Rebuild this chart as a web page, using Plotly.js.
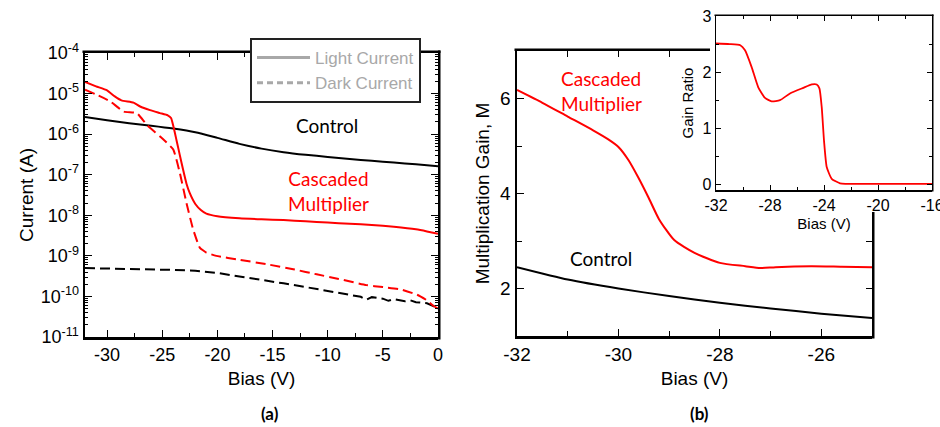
<!DOCTYPE html>
<html><head><meta charset="utf-8">
<script src="https://cdn.plot.ly/plotly-3.0.1.min.js"></script>
<style>html,body{margin:0;padding:0;background:#fff}</style>
</head><body><div id="chart" style="width:940px;height:427px"></div>
<script>
// ---- Panel (a): current vs bias ----
const ctrlLightX = [-32,-30,-28,-26,-24,-22,-20,-18,-16,-14,-12,-10,-8,-6,-4,-2,0];
const ctrlLightY = [2.63e-6,2.19e-6,1.86e-6,1.62e-6,1.38e-6,1.12e-6,8.1e-7,5.75e-7,4.4e-7,3.6e-7,3.1e-7,2.75e-7,2.45e-7,2.2e-7,2.0e-7,1.8e-7,1.62e-7];
const ctrlDarkX = [-32,-30,-28,-26,-24,-22,-20,-18,-16,-14,-12,-10,-8,-7,-6.5,-6,-5,-4.5,-4,-3,-2.5,-2,-1,-0.5,0];
const ctrlDarkY = [5.0e-10,4.9e-10,4.8e-10,4.6e-10,4.5e-10,4.3e-10,3.8e-10,3.1e-10,2.6e-10,2.1e-10,1.7e-10,1.35e-10,1.1e-10,9.8e-11,8.3e-11,9.6e-11,8.8e-11,7.8e-11,8.6e-11,7.6e-11,8.0e-11,7.2e-11,6.8e-11,6.0e-11,5.2e-11];
const cascLightX = [-32,-31,-30,-29.3,-28.7,-27.6,-27,-26.1,-25.2,-24.5,-24.2,-24,-23.7,-23.4,-23.1,-22.8,-22.5,-22,-21.5,-21,-20,-18,-16,-14,-12,-10,-8,-6,-4,-2,-1,0];
const cascLightY = [1.93e-5,1.51e-5,1.2e-5,8.5e-6,6.8e-6,6.0e-6,4.8e-6,3.9e-6,3.3e-6,2.9e-6,2.5e-6,1.6e-6,7e-7,3e-7,1.3e-7,6e-8,3.5e-8,1.9e-8,1.35e-8,1.1e-8,9.5e-9,8.5e-9,8.0e-9,7.6e-9,7.1e-9,6.6e-9,6.2e-9,5.8e-9,5.2e-9,4.5e-9,4.0e-9,3.5e-9];
const cascDarkX = [-32,-31,-29.7,-28.5,-27.3,-26.4,-25.2,-24.0,-23.4,-22.8,-22.2,-21.6,-21,-20.1,-18,-15.5,-13,-11,-9,-6.5,-5,-3.4,-1.9,-1,-0.4,0];
const cascDarkY = [1.25e-5,9.5e-6,6.4e-6,3.6e-6,3.3e-6,1.7e-6,8.8e-7,4.2e-7,1.1e-7,2e-8,4.5e-9,1.6e-9,1.2e-9,1.0e-9,8.0e-10,6.2e-10,4.6e-10,3.5e-10,2.7e-10,1.9e-10,1.7e-10,1.5e-10,1.1e-10,8e-11,5.8e-11,5e-11];
const aXTicks = [-30,-25,-20,-15,-10,-5,0];
const aYExp = [-11,-10,-9,-8,-7,-6,-5,-4];

// ---- Panel (b): multiplication gain ----
const gainCascX = [-32,-31.5,-31,-30.5,-30.2,-30,-29.8,-29.6,-29.4,-29.2,-28.9,-28.5,-28,-27.5,-27.2,-26.9,-26.2,-25.6,-25];
const gainCascY = [6.18,5.91,5.62,5.33,5.14,4.98,4.70,4.32,3.90,3.46,3.02,2.75,2.54,2.47,2.43,2.45,2.47,2.46,2.45];
const gainCtrlX = [-32,-31,-30,-29,-28,-27,-26,-25];
const gainCtrlY = [2.45,2.19,2.00,1.84,1.70,1.58,1.47,1.38];
const bXTicks = [-32,-30,-28,-26];
const bYTicks = [2,4,6];

// ---- Inset: gain ratio ----
const ratioX = [-32,-31,-30.2,-29.85,-29.36,-28.87,-28.37,-27.88,-27.26,-26.52,-25.53,-24.9,-24.54,-24.34,-24.17,-24.0,-23.8,-23.43,-22.81,-21.3,-20,-18,-16];
const ratioY = [2.51,2.50,2.48,2.39,2.09,1.73,1.54,1.48,1.50,1.62,1.72,1.78,1.78,1.71,1.38,0.78,0.31,0.10,0.02,0.01,0.01,0.01,0.01];
const iXTicks = [-32,-28,-24,-20,-16];
const iYTicks = [0,1,2,3];

const legendNames = ['Light Current','Dark Current'];

const W = 940, H = 427;
const fx = v => v / W, fy = v => 1 - v / H;
const RED = '#ff0000', BLK = '#000000', GREY = '#a8a8a8';
const TF = '"Liberation Sans", Arial, sans-serif';
const AF = 'Lato, "Open Sans", sans-serif';
const lbl = arr => arr.map(v => String(v));

const nul = (xa, ya) => ({x:[null], y:[null], xaxis:xa, yaxis:ya, mode:'lines', showlegend:false, hoverinfo:'skip'});

const traces = [
  {x: ctrlLightX, y: ctrlLightY, xaxis:'x', yaxis:'y', mode:'lines', line:{color:BLK, width:2, shape:'spline', smoothing:0.6}, showlegend:false},
  {x: ctrlDarkX, y: ctrlDarkY, xaxis:'x', yaxis:'y', mode:'lines', line:{color:BLK, width:2, dash:'10px,5px'}, showlegend:false},
  {x: cascLightX, y: cascLightY, xaxis:'x', yaxis:'y', mode:'lines', line:{color:RED, width:2, shape:'spline', smoothing:0.5}, showlegend:false},
  {x: cascDarkX, y: cascDarkY, xaxis:'x', yaxis:'y', mode:'lines', line:{color:RED, width:2, dash:'10px,5px', shape:'spline', smoothing:0.4}, showlegend:false},
  {x:[null], y:[null], xaxis:'x', yaxis:'y', mode:'lines', name: legendNames[0], line:{color:GREY, width:3}},
  {x:[null], y:[null], xaxis:'x', yaxis:'y', mode:'lines', name: legendNames[1], line:{color:GREY, width:3, dash:'6px,4px'}},
  {x: gainCascX, y: gainCascY, xaxis:'x2', yaxis:'y2', mode:'lines', line:{color:RED, width:2, shape:'spline', smoothing:0.6}, showlegend:false},
  {x: gainCtrlX, y: gainCtrlY, xaxis:'x2', yaxis:'y2', mode:'lines', line:{color:BLK, width:2, shape:'spline', smoothing:0.6}, showlegend:false},
  {x: ratioX, y: ratioY, xaxis:'x3', yaxis:'y3', mode:'lines', line:{color:RED, width:1.8, shape:'spline', smoothing:0.5}, showlegend:false},
  // empty carriers so the mirrored tick axes get drawn
  nul('x4','y'), nul('x','y4'), nul('x5','y2'), nul('x2','y5'), nul('x6','y3'), nul('x3','y6')
];

const dAx = [fx(85), fx(438)], dAy = [fy(337), fy(53)];
const d2x = [fx(517), fx(872)], d2y = [fy(336), fy(51)];
const d3x = [fx(716), fx(932)], d3y = [fy(190), fy(16)];
const d5x = [fx(517), fx(710)], d5y = [fy(336), fy(212)];
const xArange = [-32, 0], yArange = [-11, -4];
const x2range = [-32, -25], y2range = [1, 7];
const x3range = [-32, -16], y3range = [-0.1, 3];
const x5range = [x2range[0], x2range[0] + (x2range[1]-x2range[0]) * (d5x[1]-d5x[0]) / (d2x[1]-d2x[0])];
const y5range = [y2range[0], y2range[0] + (y2range[1]-y2range[0]) * (d5y[1]-d5y[0]) / (d2y[1]-d2y[0])];

const base = {showgrid:false, zeroline:false, showline:true, linecolor:'#000', ticks:'inside', tickcolor:'#000', automargin:false};
const ghost = {showgrid:false, zeroline:false, showline:false, ticks:'inside', tickcolor:'#000', showticklabels:false, automargin:false, fixedrange:true};
const mn = (d, l) => ({dtick:d, tick0:0, ticks:'inside', ticklen:l, tickcolor:'#000'});
const arr = (vals) => ({tickmode:'array', tickvals:vals, ticktext:lbl(vals)});

// frame lines (top / right edges) in paper coordinates
const LW = 2.5, LWi = 1.5;
const seg = (x0, y0, x1, y1, w) => ({type:'line', xref:'paper', yref:'paper', x0:fx(x0), y0:fy(y0), x1:fx(x1), y1:fy(y1), line:{color:'#000', width:w}, layer:'above'});
const shapes = [
  seg(85 - LW, 53 - LW/2, 438 + LW, 53 - LW/2, LW),
  seg(438 + LW/2, 53 - LW, 438 + LW/2, 337 + LW, LW),
  seg(517 - LW, 51 - LW/2, 710, 51 - LW/2, LW),
  seg(872 + LW/2, 212, 872 + LW/2, 336 + LW, LW),
  seg(716 - LWi, 16 - LWi/2, 932 + LWi, 16 - LWi/2, LWi),
  seg(932 + LWi/2, 16 - LWi, 932 + LWi/2, 190 + LWi, LWi)
];

const layout = {
  width: W, height: H,
  margin: {l:0, r:0, t:0, b:0},
  paper_bgcolor: '#fff', plot_bgcolor: 'rgba(0,0,0,0)',
  font: {family: TF, color:'#000'},
  showlegend: true,
  legend: {x: fx(250), y: fy(38), xanchor:'left', yanchor:'top', bgcolor:'#fff', bordercolor:'#222', borderwidth:2,
           font:{family:TF, size:17, color:GREY}, itemwidth:53, tracegroupgap:0},
  xaxis: Object.assign({}, base, arr(aXTicks), {domain:dAx, anchor:'y', range:xArange, linewidth:LW, ticklen:7,
          minor:mn(2.5, 4), tickfont:{size:18}, title:{text:'Bias (V)', font:{size:19}, standoff:8}}),
  yaxis: Object.assign({}, base, {domain:dAy, anchor:'x', type:'log', range:yArange, linewidth:LW, ticklen:7,
          tickmode:'array', tickvals:aYExp.map(e => Math.pow(10, e)), ticktext:aYExp.map(e => '10<sup>' + e + '</sup>'),
          minor:{dtick:'D1', ticks:'inside', ticklen:3, tickcolor:'#000'}, tickfont:{size:18}, title:{text:'Current (A)', font:{size:19}, standoff:2}}),
  xaxis4: Object.assign({}, ghost, {overlaying:'x', anchor:'y', side:'top', range:xArange, dtick:5, tick0:0, ticklen:7, minor:mn(2.5, 4)}),
  yaxis4: Object.assign({}, ghost, {overlaying:'y', anchor:'x', side:'right', type:'log', range:yArange, dtick:1, ticklen:7, minor:{dtick:'D1', ticks:'inside', ticklen:3, tickcolor:'#000'}}),

  xaxis2: Object.assign({}, base, arr(bXTicks), {domain:d2x, anchor:'y2', range:x2range, linewidth:LW, ticklen:7,
          minor:mn(1, 5), tickfont:{size:19}, title:{text:'Bias (V)', font:{size:19}, standoff:8}}),
  yaxis2: Object.assign({}, base, arr(bYTicks), {domain:d2y, anchor:'x2', range:y2range, linewidth:LW, ticklen:7,
          minor:mn(1, 5), tickfont:{size:19}, title:{text:'Multiplication Gain, M', font:{size:19}, standoff:6}}),
  xaxis5: Object.assign({}, ghost, {domain:d5x, anchor:'y2', side:'top', range:x5range, dtick:1, tick0:0, ticklen:6}),
  yaxis5: Object.assign({}, ghost, {domain:d5y, anchor:'x2', side:'right', range:y5range, dtick:1, tick0:0, ticklen:6}),

  xaxis3: Object.assign({}, base, arr(iXTicks), {domain:d3x, anchor:'y3', range:x3range, linewidth:LWi, ticklen:5,
          ticklabeloverflow:'allow', minor:mn(2, 3), tickfont:{size:16}, title:{text:'Bias (V)', font:{size:15}, standoff:6}}),
  yaxis3: Object.assign({}, base, arr(iYTicks), {domain:d3y, anchor:'x3', range:y3range, linewidth:LWi, ticklen:5,
          ticklabeloverflow:'allow', minor:mn(0.5, 3), tickfont:{size:16}, title:{text:'Gain Ratio', font:{size:15}, standoff:5}}),
  xaxis6: Object.assign({}, ghost, {overlaying:'x3', anchor:'y3', side:'top', range:x3range, dtick:4, tick0:0, ticklen:5, minor:mn(2, 3)}),
  yaxis6: Object.assign({}, ghost, {overlaying:'y3', anchor:'x3', side:'right', range:y3range, dtick:1, tick0:0, ticklen:5, minor:mn(0.5, 3)}),

  shapes: shapes,
  annotations: [
    {xref:'paper', yref:'paper', x:fx(327), y:fy(125), xanchor:'center', yanchor:'middle', text:'Control', showarrow:false, font:{family:AF, size:19, color:BLK}},
    {xref:'paper', yref:'paper', x:fx(328), y:fy(191), xanchor:'center', yanchor:'middle', text:'Cascaded<br>Multiplier', showarrow:false, font:{family:AF, size:19, color:RED}},
    {xref:'paper', yref:'paper', x:fx(559), y:fy(91), xanchor:'left', yanchor:'middle', align:'left', text:'Cascaded<br>Multiplier', showarrow:false, font:{family:AF, size:19, color:RED}},
    {xref:'paper', yref:'paper', x:fx(601), y:fy(258), xanchor:'center', yanchor:'middle', text:'Control', showarrow:false, font:{family:AF, size:19, color:BLK}},
    {xref:'paper', yref:'paper', x:fx(270), y:fy(413), xanchor:'center', yanchor:'middle', text:'<b>(a)</b>', showarrow:false, font:{family:AF, size:17, color:BLK}},
    {xref:'paper', yref:'paper', x:fx(699), y:fy(413), xanchor:'center', yanchor:'middle', text:'<b>(b)</b>', showarrow:false, font:{family:AF, size:17, color:BLK}}
  ]
};

Plotly.newPlot('chart', traces, layout, {staticPlot:true, displayModeBar:false});
</script></body></html>
